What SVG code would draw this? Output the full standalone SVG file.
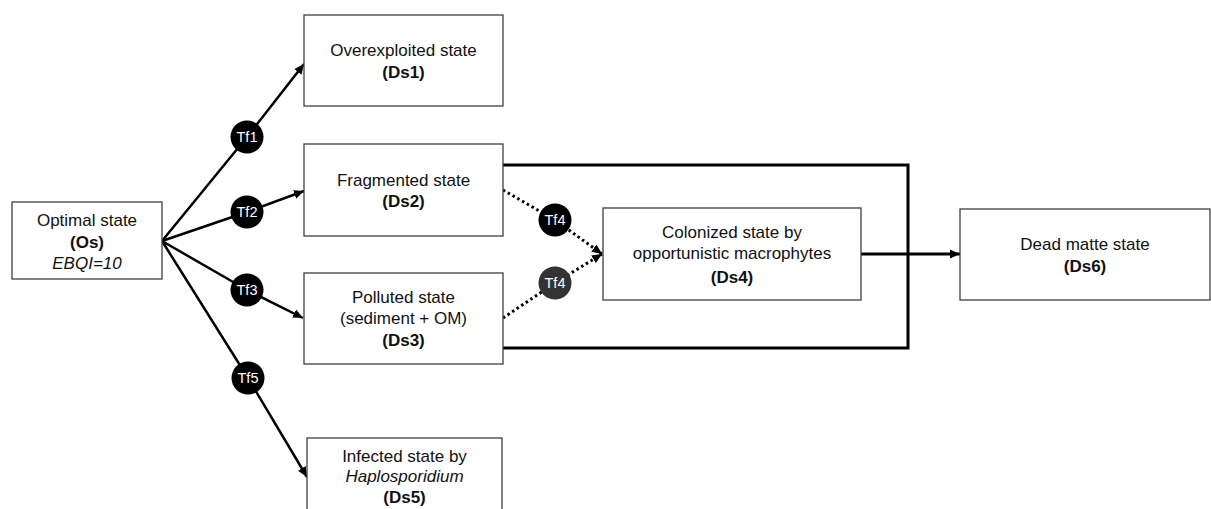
<svg xmlns="http://www.w3.org/2000/svg" width="1211" height="509" viewBox="0 0 1211 509">
<style>
.box{fill:#fff;stroke:#404040;stroke-width:1.3}
.t{font-family:"Liberation Sans",Arial,sans-serif;font-size:17px;fill:#111;text-anchor:middle}
.b{font-weight:bold}
.i{font-style:italic}
.c{fill:#000}
.ct{font-family:"Liberation Sans",Arial,sans-serif;font-size:14.5px;fill:#fff;text-anchor:middle}
.ln{fill:none;stroke:#000;stroke-width:2.5}
.dot{fill:none;stroke:#000;stroke-width:3;stroke-dasharray:2.5 3}
.frame{fill:none;stroke:#000;stroke-width:3}
</style>
<defs>
<marker id="ah" markerUnits="userSpaceOnUse" markerWidth="12" markerHeight="10" refX="10" refY="5" orient="auto">
<path d="M0,0.5 L10,5 L0,9.5 z" fill="#000"/>
</marker>
</defs>
<rect width="1211" height="509" fill="#fff"/>
<g id="connectors">
<path class="frame" d="M503,165 H908 V348 H503"/>
<polyline class="ln" points="162,241 247,137 304,64" marker-end="url(#ah)"/>
<polyline class="ln" points="162,241 247,212 304,191" marker-end="url(#ah)"/>
<polyline class="ln" points="162,241 247,290 303,318" marker-end="url(#ah)"/>
<polyline class="ln" points="162,241 248,378 307,477" marker-end="url(#ah)"/>
<polyline class="dot" points="503,190 555,220 602,254" marker-end="url(#ah)"/>
<polyline class="dot" points="503,318 555,283 602,254" marker-end="url(#ah)"/>
<line class="frame" x1="861" y1="254" x2="960" y2="254" marker-end="url(#ah)"/>
<g id="tf1"><circle class="c" cx="247" cy="137" r="16.5"/><text class="ct" x="247" y="142">Tf1</text></g>
<g id="tf2"><circle class="c" cx="247" cy="212" r="16.5"/><text class="ct" x="247" y="217">Tf2</text></g>
<g id="tf3"><circle class="c" cx="247" cy="290" r="16.5"/><text class="ct" x="247" y="295">Tf3</text></g>
<g id="tf5"><circle class="c" cx="248" cy="378" r="16.5"/><text class="ct" x="248" y="383">Tf5</text></g>
<g id="tf4a"><circle class="c" cx="555" cy="220" r="16.5"/><text class="ct" x="555" y="225">Tf4</text></g>
<g id="tf4b"><circle cx="555" cy="283" r="16.5" fill="#333"/><text class="ct" x="555" y="288" fill="#ddd">Tf4</text></g>
</g>
<g id="Os">
<rect class="box" x="12" y="202" width="150" height="77"/>
<text class="t" x="87" y="226">Optimal state</text>
<text class="t b" x="87" y="248">(Os)</text>
<text class="t i" x="87" y="269">EBQI=10</text>
</g>
<g id="Ds1">
<rect class="box" x="304" y="15" width="199" height="91"/>
<text class="t" x="403.5" y="56">Overexploited state</text>
<text class="t b" x="403.5" y="78">(Ds1)</text>
</g>
<g id="Ds2">
<rect class="box" x="304" y="144" width="199" height="92"/>
<text class="t" x="403.5" y="186">Fragmented state</text>
<text class="t b" x="403.5" y="207">(Ds2)</text>
</g>
<g id="Ds3">
<rect class="box" x="304" y="273" width="199" height="91"/>
<text class="t" x="403.5" y="303">Polluted state</text>
<text class="t" x="403.5" y="324">(sediment + OM)</text>
<text class="t b" x="403.5" y="346">(Ds3)</text>
</g>
<g id="Ds4">
<rect class="box" x="603" y="208" width="258" height="92"/>
<text class="t" x="732" y="238">Colonized state by</text>
<text class="t" x="732" y="259">opportunistic macrophytes</text>
<text class="t b" x="732" y="283">(Ds4)</text>
</g>
<g id="Ds6">
<rect class="box" x="960" y="209" width="250" height="91"/>
<text class="t" x="1085" y="250">Dead matte state</text>
<text class="t b" x="1085" y="272">(Ds6)</text>
</g>
<g id="Ds5">
<rect class="box" x="307" y="438" width="195" height="90"/>
<text class="t" x="404.5" y="462">Infected state by</text>
<text class="t i" x="404.5" y="482">Haplosporidium</text>
<text class="t b" x="404.5" y="503">(Ds5)</text>
</g>
</svg>
